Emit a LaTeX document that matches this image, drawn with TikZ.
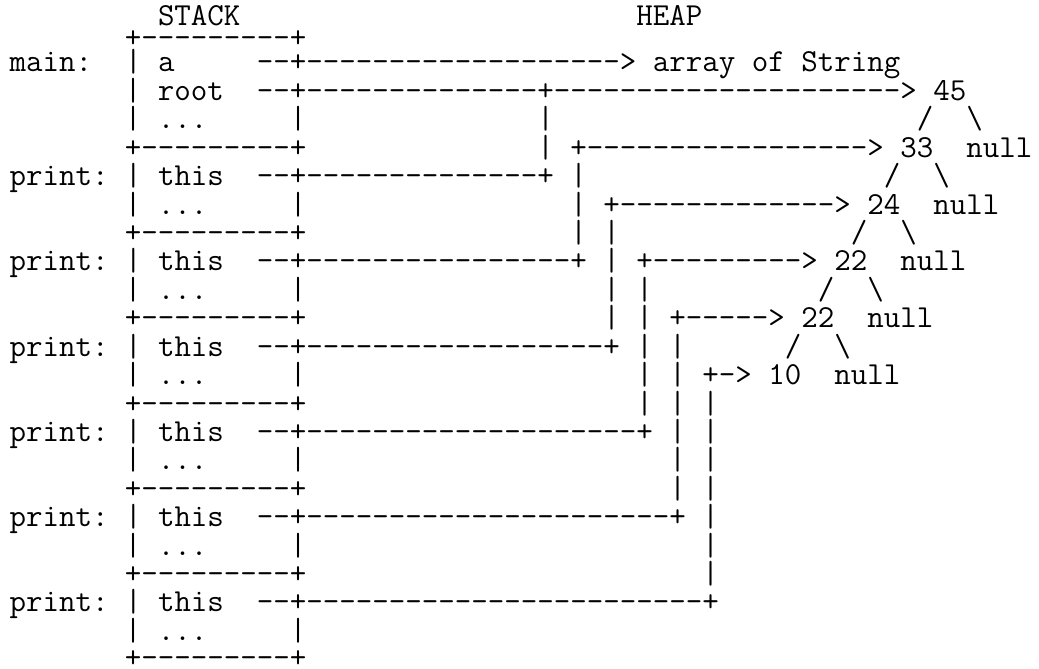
\documentclass[tikz,border=0pt]{standalone}
\newlength\cwtmp
\newcount\myspcn
\newcommand\myrep[2]{\myspcn=#1\relax\loop\ifnum\myspcn>0 #2\advance\myspcn-1 \repeat}
\newcommand\bs{\textbackslash}
\begin{document}
\settowidth\cwtmp{\ttfamily\fontsize{20pt}{24pt}\selectfont 0}%
\pgfmathsetmacro\fsz{20*16.5/\cwtmp}%
\begin{tikzpicture}[x=1pt,y=1pt]
\tikzset{row/.style={anchor=base west,inner sep=0pt,outer sep=0pt,font=\ttfamily\fontsize{\fsz pt}{\fsz pt}\selectfont}}
\useasboundingbox (0,0) rectangle (1039,-669);
\node[row] (r0) at (9.5,-26) {\myrep{9}{\ }STACK\myrep{24}{\ }HEAP};
\node[row] (r1) at (9.5,-48) {\myrep{7}{\ }+\myrep{9}{-}+};
\node[row] (r2) at (9.5,-72) {main:\myrep{2}{\ }|\ a\myrep{5}{\ }--+\myrep{19}{-}>\ array\ of\ String};
\node[row] (r3) at (9.5,-100.42) {\myrep{7}{\ }|\ root\myrep{2}{\ }--+\myrep{14}{-}+\myrep{21}{-}>\ 45};
\node[row] (r4) at (9.5,-128.84) {\myrep{7}{\ }|\ ...\myrep{5}{\ }|\myrep{14}{\ }|\myrep{22}{\ }/\myrep{2}{\ }\bs};
\node[row] (r5) at (9.5,-157.26) {\myrep{7}{\ }+\myrep{9}{-}+\myrep{14}{\ }|\ +\myrep{17}{-}>\ 33\myrep{2}{\ }null};
\node[row] (r6) at (9.5,-185.68) {print:\ |\ this\myrep{2}{\ }--+\myrep{14}{-}+\ |\myrep{18}{\ }/\myrep{2}{\ }\bs};
\node[row] (r7) at (9.5,-214.1) {\myrep{7}{\ }|\ ...\myrep{5}{\ }|\myrep{16}{\ }|\ +\myrep{13}{-}>\ 24\myrep{2}{\ }null};
\node[row] (r8) at (9.5,-242.52) {\myrep{7}{\ }+\myrep{9}{-}+\myrep{16}{\ }|\ |\myrep{14}{\ }/\myrep{2}{\ }\bs};
\node[row] (r9) at (9.5,-270.94) {print:\ |\ this\myrep{2}{\ }--+\myrep{16}{-}+\ |\ +\myrep{9}{-}>\ 22\myrep{2}{\ }null};
\node[row] (r10) at (9.5,-299.36) {\myrep{7}{\ }|\ ...\myrep{5}{\ }|\myrep{18}{\ }|\ |\myrep{10}{\ }/\myrep{2}{\ }\bs};
\node[row] (r11) at (9.5,-327.78) {\myrep{7}{\ }+\myrep{9}{-}+\myrep{18}{\ }|\ |\ +\myrep{5}{-}>\ 22\myrep{2}{\ }null};
\node[row] (r12) at (9.5,-356.2) {print:\ |\ this\myrep{2}{\ }--+\myrep{18}{-}+\ |\ |\myrep{6}{\ }/\myrep{2}{\ }\bs};
\node[row] (r13) at (9.5,-384.62) {\myrep{7}{\ }|\ ...\myrep{5}{\ }|\myrep{20}{\ }|\ |\ +->\ 10\myrep{2}{\ }null};
\node[row] (r14) at (9.5,-413.04) {\myrep{7}{\ }+\myrep{9}{-}+\myrep{20}{\ }|\ |\ |};
\node[row] (r15) at (9.5,-441.46) {print:\ |\ this\myrep{2}{\ }--+\myrep{20}{-}+\ |\ |};
\node[row] (r16) at (9.5,-469.88) {\myrep{7}{\ }|\ ...\myrep{5}{\ }|\myrep{22}{\ }|\ |};
\node[row] (r17) at (9.5,-498.3) {\myrep{7}{\ }+\myrep{9}{-}+\myrep{22}{\ }|\ |};
\node[row] (r18) at (9.5,-526.72) {print:\ |\ this\myrep{2}{\ }--+\myrep{22}{-}+\ |};
\node[row] (r19) at (9.5,-555.14) {\myrep{7}{\ }|\ ...\myrep{5}{\ }|\myrep{24}{\ }|};
\node[row] (r20) at (9.5,-583.56) {\myrep{7}{\ }+\myrep{9}{-}+\myrep{24}{\ }|};
\node[row] (r21) at (9.5,-611.98) {print:\ |\ this\myrep{2}{\ }--+\myrep{24}{-}+};
\node[row] (r22) at (9.5,-640.4) {\myrep{7}{\ }|\ ...\myrep{5}{\ }|};
\node[row] (r23) at (9.5,-667.5) {\myrep{7}{\ }+\myrep{9}{-}+};
\end{tikzpicture}
\end{document}
